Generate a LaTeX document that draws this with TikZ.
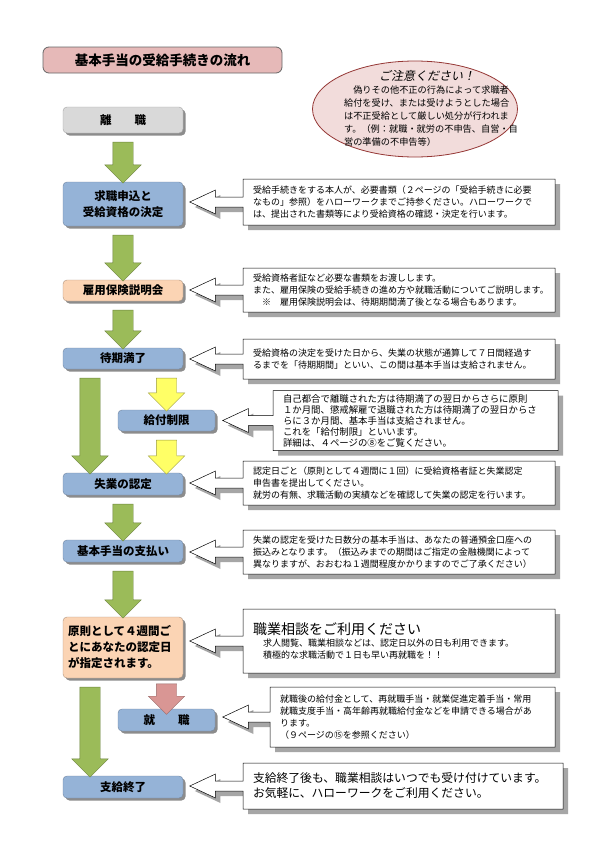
\documentclass[tikz,border=0pt]{standalone}
\usepackage{fontspec}
\setmainfont{Noto Sans CJK JP}
\newfontfamily\slantjp[FakeSlant=0.2]{Noto Sans CJK JP}
\usepackage{tikz}
\usetikzlibrary{shapes.geometric, shapes.arrows, shadows, calc, positioning}

\definecolor{flowblue}{HTML}{95B3D7}
\definecolor{flowgray}{HTML}{D9D9D9}
\definecolor{flowpeach}{HTML}{FBD4B4}
\definecolor{arrowgreen}{HTML}{9BBB59}
\definecolor{arrowyellow}{HTML}{FFFF66}
\definecolor{arrowpink}{HTML}{D99694}
\definecolor{titlepink}{HTML}{E6B9B8}
\definecolor{notepink}{HTML}{F2DCDB}
\definecolor{notered}{HTML}{953735}

\begin{document}
\begin{tikzpicture}[
			x=1pt, y=-1pt,
			heading/.style={rectangle, rounded corners=6pt, draw=black!60, line width=0.8pt, fill=titlepink, minimum width=239pt, minimum height=26pt, font=\fontsize{13.5}{16}\selectfont\bfseries},
			flow/.style={rectangle, rounded corners=4pt, draw=flowblue!75!black, line width=0.4pt, fill=flowblue, minimum width=120pt, inner sep=2pt, align=center, font=\fontsize{11.5}{16}\selectfont\bfseries, drop shadow={shadow xshift=2.5pt, shadow yshift=-2.5pt, fill=black!45, opacity=1}},
			side/.style={flow, minimum width=97pt},
			garrow/.style={single arrow, shape border rotate=270, draw=arrowgreen!70!black, line width=0.4pt, fill=arrowgreen, inner sep=10pt, single arrow head extend=8pt, single arrow tip angle=90},
			yarrow/.style={garrow, draw=arrowyellow!60!black, fill=arrowyellow},
			parrow/.style={garrow, draw=arrowpink!70!black, fill=arrowpink},
			note/.style={arrow box, draw=black, line width=0.5pt, fill=white, align=left, inner xsep=10pt, inner ysep=3pt, font=\fontsize{9}{12}\selectfont, arrow box shaft width=10pt, arrow box head extend=7pt, arrow box tip angle=50, drop shadow={shadow xshift=5pt, shadow yshift=-5pt, fill=black!35, opacity=1}}
			]
			
			\path[use as bounding box, fill=white] (0,0) rectangle (597,854);
			
			% --- Title and caution ---
			\node[heading] (title) at (162.5,60) {基本手当の受給手続きの流れ};
			\node[ellipse, draw=notered, line width=0.8pt, fill=notepink, minimum width=205pt, minimum height=96pt] (caution) at (415,109) {};
			\node[font=\fontsize{12}{14}\selectfont\slantjp, inner sep=0pt] (caution_title) at (427,76) {ご注意ください！};
			\node[align=left, inner sep=0pt, font=\fontsize{9.2}{13}\selectfont] (caution_text) at (431,116) {\hspace*{1em}偽りその他不正の行為によって求職者\\給付を受け、または受けようとした場合\\は不正受給として厳しい処分が行われま\\す。（例：就職・就労の不申告、自営・自\\営の準備の不申告等）};
			
			% --- Column 1: flow boxes ---
			\node[flow, fill=flowgray, draw=black!35, minimum height=26pt] (leave) at (123,120) {離　　職};
			\node[flow, minimum height=44pt] (apply) at (123,204) {求職申込と\\受給資格の決定};
			\node[flow, fill=flowpeach, draw=flowpeach!70!black, minimum height=21pt] (briefing) at (123,290.5) {雇用保険説明会};
			\node[flow, minimum height=21pt] (waiting) at (123,358.5) {待期満了};
			\node[side, minimum height=21pt] (restrict) at (166.5,420.5) {給付制限};
			\node[flow, minimum height=22pt] (certify) at (123,484) {失業の認定};
			\node[flow, minimum height=22pt] (payment) at (123,551) {基本手当の支払い};
			\node[flow, fill=flowpeach, draw=flowpeach!70!black, minimum height=61pt, text width=110pt, align=left] (schedule) at (123,647.5) {原則として４週間ご\\とにあなたの認定日\\が指定されます。};
			\node[side, minimum height=22pt] (hired) at (166.5,720) {就　　職};
			\node[flow, minimum height=22pt] (finish) at (123,787) {支給終了};
			
			% --- Block arrows between boxes ---
			\node[garrow, minimum height=41pt] (a_leave) at ($(leave.south)!0.5!(apply.north)$) {};
			\node[garrow, minimum height=46pt] (a_apply) at ($(apply.south)!0.5!(briefing.north)$) {};
			\node[garrow, minimum height=39pt] (a_briefing) at ($(briefing.south)!0.5!(waiting.north)$) {};
			\node[garrow, minimum height=96pt] (a_waiting) at (90,421) {};
			\node[yarrow, minimum height=33pt] (y_waiting) at (166.5,389.5) {};
			\node[yarrow, minimum height=34pt] (y_restrict) at (166.5,452) {};
			\node[garrow, minimum height=37pt] (a_certify) at ($(certify.south)!0.5!(payment.north)$) {};
			\node[garrow, minimum height=47pt] (a_payment) at ($(payment.south)!0.5!(schedule.north)$) {};
			\node[parrow, minimum height=26pt] (p_schedule) at (166.5,694) {};
			\node[garrow, minimum height=90pt] (a_schedule) at (90,727) {};
			
			% --- Callouts pointing at the boxes ---
			\node[note, text width=292pt, minimum height=46pt, arrow box arrows={west:53pt}] (c_apply) at (399,202) {受給手続きをする本人が、必要書類（２ページの「受給手続きに必要\\なもの」参照）をハローワークまでご持参ください。ハローワークで\\は、提出された書類等により受給資格の確認・決定を行います。};
			\node[note, text width=292pt, minimum height=44pt, arrow box arrows={west:53pt}] (c_briefing) at (399,290) {受給資格者証など必要な書類をお渡しします。\\また、雇用保険の受給手続きの進め方や就職活動についてご説明します。\\\hspace*{1em}※\hspace{1em}雇用保険説明会は、待期期間満了後となる場合もあります。};
			\node[note, text width=292pt, minimum height=40pt, arrow box arrows={west:53pt}] (c_waiting) at (399,359) {受給資格の決定を受けた日から、失業の状態が通算して７日間経過す\\るまでを「待期期間」といい、この間は基本手当は支給されません。};
			\node[note, text width=265pt, minimum height=60pt, arrow box arrows={west:50pt}, font=\fontsize{9.4}{11}\selectfont] (c_restrict) at (415.5,420.5) {自己都合で離職された方は待期満了の翌日からさらに原則\\１か月間、懲戒解雇で退職された方は待期満了の翌日からさ\\らに３か月間、基本手当は支給されません。\\これを「給付制限」といいます。\\詳細は、４ページの⑧をご覧ください。};
			\node[note, text width=292pt, minimum height=44pt, arrow box arrows={west:53pt}] (c_certify) at (399,483) {認定日ごと（原則として４週間に１回）に受給資格者証と失業認定\\申告書を提出してください。\\就労の有無、求職活動の実績などを確認して失業の認定を行います。};
			\node[note, text width=292pt, minimum height=44pt, arrow box arrows={west:53pt}] (c_payment) at (399,552) {失業の認定を受けた日数分の基本手当は、あなたの普通預金口座への\\振込みとなります。（振込みまでの期間はご指定の金融機関によって\\異なりますが、おおむね１週間程度かかりますのでご了承ください）};
			\node[note, text width=292pt, minimum height=64pt, arrow box arrows={west:53pt}] (c_schedule) at (399,641) {{\fontsize{14}{18}\selectfont 職業相談をご利用ください}\\\hspace*{10pt}求人閲覧、職業相談などは、認定日以外の日も利用できます。\\\hspace*{10pt}積極的な求職活動で１日も早い再就職を！！};
			\node[note, text width=265pt, minimum height=60pt, arrow box arrows={west:47pt}] (c_hired) at (412.5,717) {就職後の給付金として、再就職手当・就業促進定着手当・常用\\就職支度手当・高年齢再就職給付金などを申請できる場合があ\\ります。\\（９ページの⑮を参照ください）};
			\node[note, text width=300pt, minimum height=46pt, arrow box arrows={west:53pt}, font=\fontsize{11.8}{15}\selectfont] (c_finish) at (403,786) {支給終了後も、職業相談はいつでも受け付けています。\\お気軽に、ハローワークをご利用ください。};
			
			\end{tikzpicture}
\end{document}
